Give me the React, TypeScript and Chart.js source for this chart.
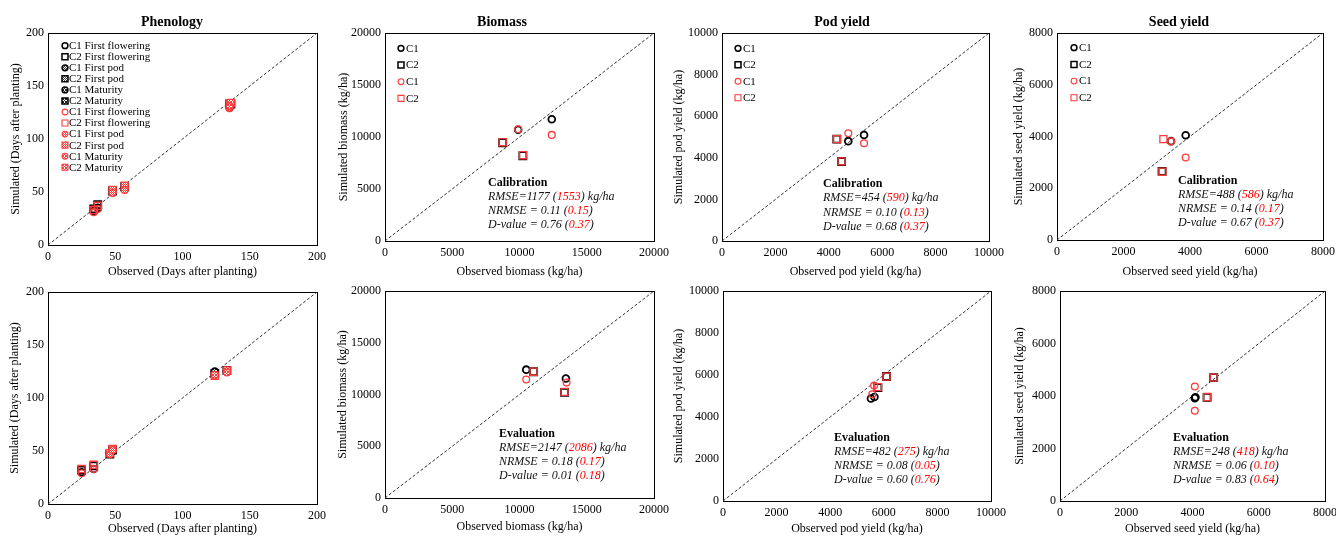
import React, { useEffect, useRef } from 'react';
import { Chart, registerables } from 'chart.js';

Chart.register(...registerables);

const FONT = '"Liberation Serif", "Times New Roman", serif';
const BLACK = '#000000';
const RED = '#ff3b3b';
const RED_TEXT = '#ff0000';

// ---------------- data ----------------
const phenNames = ['C1 First flowering', 'C2 First flowering', 'C1 First pod', 'C2 First pod', 'C1 Maturity', 'C2 Maturity'];
const yieldNames = ['C1', 'C2'];

const phenTicks = [0, 50, 100, 150, 200];
const biomassTicks = [0, 5000, 10000, 15000, 20000];
const podTicks = [0, 2000, 4000, 6000, 8000, 10000];
const seedTicks = [0, 2000, 4000, 6000, 8000];

// [observed, simulated] pairs per series
const phenCalBlack = [
  [[34, 32], [37, 35]],
  [[34, 34], [37, 38]],
  [[48, 50], [57, 53]],
  [[48, 51], [57, 55]],
  [[135, 131], [135, 130]],
  [[135, 133], [136, 133]],
];
const phenCalRed = [
  [[34, 31], [37, 34]],
  [[34, 33], [37, 37]],
  [[48, 49], [57, 52]],
  [[48, 52], [57, 56]],
  [[135, 129], [135, 131]],
  [[135, 133], [136, 134]],
];
const phenEvalBlack = [
  [[25, 30], [34, 33]],
  [[25, 32], [34, 36]],
  [[46, 48], [48, 50]],
  [[46, 47], [48, 51]],
  [[124, 125], [133, 125]],
  [[124, 123], [133, 126]],
];
const phenEvalRed = [
  [[25, 29], [34, 33]],
  [[25, 33], [34, 37]],
  [[46, 47], [48, 51]],
  [[46, 48], [48, 52]],
  [[124, 122], [133, 124]],
  [[124, 121], [133, 126]],
];

const biomassCalBlack = [
  [[9900, 10700], [12400, 11700]],
  [[8750, 9450], [10250, 8200]],
];
const biomassCalRed = [
  [[9900, 10750], [12400, 10200]],
  [[8750, 9500], [10250, 8250]],
];
const biomassEvalBlack = [
  [[10500, 12400], [13450, 11550]],
  [[11050, 12200], [13350, 10200]],
];
const biomassEvalRed = [
  [[10500, 11450], [13500, 11150]],
  [[11050, 12200], [13350, 10250]],
];

const podCalBlack = [
  [[4730, 4800], [5320, 5100]],
  [[4300, 4900], [4480, 3820]],
];
const podCalRed = [
  [[4730, 5180], [5320, 4700]],
  [[4300, 4900], [4480, 3830]],
];
const podEvalBlack = [
  [[5520, 4880], [5650, 4950]],
  [[5780, 5400], [6100, 5930]],
];
const podEvalRed = [
  [[5570, 5080], [5640, 5500]],
  [[5780, 5420], [6100, 5920]],
];

const seedCalBlack = [
  [[3430, 3820], [3870, 4050]],
  [[3160, 2650]],
];
const seedCalRed = [
  [[3430, 3810], [3870, 3190]],
  [[3200, 3900], [3170, 2640]],
];
const seedEvalBlack = [
  [[4070, 3920], [4090, 3950]],
  [[4440, 3950], [4640, 4700]],
];
const seedEvalRed = [
  [[4070, 4360], [4070, 3440]],
  [[4440, 3960], [4640, 4700]],
];

// RMSE, RMSE(red), NRMSE, NRMSE(red), D, D(red)
const biomassCalStats = ['1177', '1553', '0.11', '0.15', '0.76', '0.37'];
const podCalStats = ['454', '590', '0.10', '0.13', '0.68', '0.37'];
const seedCalStats = ['488', '586', '0.14', '0.17', '0.67', '0.37'];
const biomassEvalStats = ['2147', '2086', '0.18', '0.17', '0.01', '0.18'];
const podEvalStats = ['482', '275', '0.08', '0.05', '0.60', '0.76'];
const seedEvalStats = ['248', '418', '0.06', '0.10', '0.83', '0.64'];

// ---------------- layout ----------------
const TOP_CY = 0, TOP_CH = 282, BOT_CY = 282, BOT_CH = 260, CW = 345;

const panels: any[] = [
  {
    id: 'phenCal', cx: 0, cy: TOP_CY, cw: CW, ch: TOP_CH, plot: [48, 33, 317, 245], ticks: phenTicks,
    xTitle: 'Observed (Days after planting)', yTitle: 'Simulated (Days after planting)', yTitleX: 16, xTitleY: 272,
    title: 'Phenology', titleX: 172, kind: 'phen', names: phenNames, black: phenCalBlack, red: phenCalRed,
    legend: { x: 65, y: 45.7, step: 11.05, textX: 69 },
  },
  {
    id: 'bioCal', cx: 334, cy: TOP_CY, cw: CW, ch: TOP_CH, plot: [385, 33, 654, 241], ticks: biomassTicks,
    xTitle: 'Observed biomass (kg/ha)', yTitle: 'Simulated biomass (kg/ha)', yTitleX: 343.5, xTitleY: 272,
    title: 'Biomass', titleX: 502, kind: 'yield', names: yieldNames, black: biomassCalBlack, red: biomassCalRed,
    legend: { x: 401, y: 48.3, step: 16.7, textX: 406 },
    stats: { label: 'Calibration', values: biomassCalStats, x: 488, y: 183, step: 13.8 },
  },
  {
    id: 'podCal', cx: 668, cy: TOP_CY, cw: CW, ch: TOP_CH, plot: [722, 33, 989, 241], ticks: podTicks,
    xTitle: 'Observed pod yield (kg/ha)', yTitle: 'Simulated pod yield (kg/ha)', yTitleX: 679, xTitleY: 272,
    title: 'Pod yield', titleX: 842, kind: 'yield', names: yieldNames, black: podCalBlack, red: podCalRed,
    legend: { x: 738, y: 48.3, step: 16.5, textX: 743 },
    stats: { label: 'Calibration', values: podCalStats, x: 823, y: 184, step: 14.2 },
  },
  {
    id: 'seedCal', cx: 1002, cy: TOP_CY, cw: CW, ch: TOP_CH, plot: [1057, 33, 1323, 240], ticks: seedTicks,
    xTitle: 'Observed seed yield (kg/ha)', yTitle: 'Simulated seed yield (kg/ha)', yTitleX: 1018.5, xTitleY: 272,
    title: 'Seed yield', titleX: 1179, kind: 'yield', names: yieldNames, black: seedCalBlack, red: seedCalRed,
    legend: { x: 1074, y: 47.7, step: 16.7, textX: 1079 },
    stats: { label: 'Calibration', values: seedCalStats, x: 1178, y: 181, step: 14 },
  },
  {
    id: 'phenEval', cx: 0, cy: BOT_CY, cw: CW, ch: BOT_CH, plot: [48, 292, 317, 504], ticks: phenTicks,
    xTitle: 'Observed (Days after planting)', yTitle: 'Simulated (Days after planting)', yTitleX: 15, xTitleY: 529,
    kind: 'phen', names: phenNames, black: phenEvalBlack, red: phenEvalRed,
  },
  {
    id: 'bioEval', cx: 334, cy: BOT_CY, cw: CW, ch: BOT_CH, plot: [385, 291, 654, 498], ticks: biomassTicks,
    xTitle: 'Observed biomass (kg/ha)', yTitle: 'Simulated biomass (kg/ha)', yTitleX: 343, xTitleY: 527,
    kind: 'yield', names: yieldNames, black: biomassEvalBlack, red: biomassEvalRed,
    stats: { label: 'Evaluation', values: biomassEvalStats, x: 499, y: 434, step: 14 },
  },
  {
    id: 'podEval', cx: 668, cy: BOT_CY, cw: CW, ch: BOT_CH, plot: [723, 291, 991, 501], ticks: podTicks,
    xTitle: 'Observed pod yield (kg/ha)', yTitle: 'Simulated pod yield (kg/ha)', yTitleX: 679, xTitleY: 529,
    kind: 'yield', names: yieldNames, black: podEvalBlack, red: podEvalRed,
    stats: { label: 'Evaluation', values: podEvalStats, x: 834, y: 438, step: 14 },
  },
  {
    id: 'seedEval', cx: 1002, cy: BOT_CY, cw: CW, ch: BOT_CH, plot: [1060, 291, 1325, 501], ticks: seedTicks,
    xTitle: 'Observed seed yield (kg/ha)', yTitle: 'Simulated seed yield (kg/ha)', yTitleX: 1020, xTitleY: 529,
    kind: 'yield', names: yieldNames, black: seedEvalBlack, red: seedEvalRed,
    stats: { label: 'Evaluation', values: seedEvalStats, x: 1173, y: 438, step: 14 },
  },
];

function makePattern(kind: string, color: string): any {
  const c = document.createElement('canvas');
  const n = kind === 'dots' ? 2 : 3;
  c.width = n;
  c.height = n;
  const g = c.getContext('2d');
  if (!g) return color;
  g.fillStyle = '#ffffff';
  g.fillRect(0, 0, n, n);
  g.fillStyle = color;
  if (kind === 'dots') {
    g.fillRect(0, 0, 1, 1);
    g.fillRect(1, 1, 1, 1);
  } else {
    g.fillRect(0, 0, 1, 1);
    g.fillRect(1, 1, 1, 1);
    g.fillRect(2, 2, 1, 1);
    g.fillRect(2, 0, 1, 1);
    g.fillRect(0, 2, 1, 1);
  }
  return g.createPattern(c, 'repeat') || color;
}

function drawMarker(ctx: any, shape: string, x: number, y: number, r: number, fill: any, stroke: string, lw: number) {
  ctx.beginPath();
  if (shape === 'circle') ctx.arc(x, y, r, 0, Math.PI * 2);
  else ctx.rect(x - r, y - r, 2 * r, 2 * r);
  ctx.fillStyle = fill;
  ctx.fill();
  ctx.lineWidth = lw;
  ctx.strokeStyle = stroke;
  ctx.stroke();
}

function buildConfig(p: any) {
  const pats: any = {
    blackdots: makePattern('dots', '#3a3a3a'),
    blackhatch: makePattern('hatch', '#222222'),
    reddots: makePattern('dots', RED),
    redhatch: makePattern('hatch', RED),
  };
  const styles = (color: string) =>
    p.names.map((name: string, i: number) => {
      const shape = i % 2 === 0 ? 'circle' : 'rect';
      const stage = p.kind === 'phen' ? Math.floor(i / 2) : 0;
      const fill = stage === 0 ? 'rgba(255,255,255,0)' : stage === 1 ? pats[color + 'dots'] : pats[color + 'hatch'];
      return {
        name, shape, fill,
        stroke: color === 'black' ? BLACK : RED,
        lw: color === 'black' ? 1.8 : 1.3,
      };
    });
  const blackStyles = styles('black');
  const redStyles = styles('red');
  const allStyles = [...blackStyles, ...redStyles];

  const min = p.ticks[0];
  const max = p.ticks[p.ticks.length - 1];
  const step = p.ticks[1] - p.ticks[0];

  const mk = (st: any, pts: number[][], order: number) => ({
    label: st.name,
    data: pts.map(([x, y]) => ({ x, y })),
    pointStyle: st.shape,
    pointRadius: st.shape === 'circle' ? 3.4 : 5,
    pointBackgroundColor: st.fill,
    pointBorderColor: st.stroke,
    pointBorderWidth: st.lw,
    backgroundColor: st.fill,
    borderColor: st.stroke,
    showLine: false,
    order,
  });
  const datasets: any[] = [];
  blackStyles.forEach((st: any, i: number) => datasets.push(mk(st, p.black[i], 2)));
  redStyles.forEach((st: any, i: number) => datasets.push(mk(st, p.red[i], 1)));
  datasets.push({
    label: '1:1',
    data: [{ x: min, y: min }, { x: max, y: max }],
    showLine: true,
    borderColor: '#333333',
    borderWidth: 1,
    borderDash: [3, 2],
    pointRadius: 0,
    fill: false,
    order: 3,
  });

  const [L, T, R, B] = p.plot;
  const yW = L - p.cx;
  const padTop = T - p.cy;
  const padRight = p.cx + p.cw - R;
  const xH = p.cy + p.ch - B;
  const lh = 12 * 1.2;
  const ox = p.cx, oy = p.cy;

  const overlay = {
    id: 'overlay' + p.id,
    beforeDatasetsDraw(chart: any) {
      const ctx = chart.ctx;
      const ca = chart.chartArea;
      ctx.save();
      ctx.strokeStyle = '#000';
      ctx.lineWidth = 1;
      ctx.strokeRect(Math.round(ca.left) + 0.5, Math.round(ca.top) + 0.5, Math.round(ca.right - ca.left), Math.round(ca.bottom - ca.top));
      ctx.restore();
    },
    afterDraw(chart: any) {
      const ctx = chart.ctx;
      ctx.save();
      ctx.textBaseline = 'middle';
      if (p.title) {
        ctx.textAlign = 'center';
        ctx.fillStyle = '#000';
        ctx.font = `bold 14px ${FONT}`;
        ctx.fillText(p.title, p.titleX - ox, 22 - oy);
      }
      if (p.legend) {
        const lg = p.legend;
        ctx.textAlign = 'left';
        ctx.font = `11px ${FONT}`;
        allStyles.forEach((st: any, i: number) => {
          const y = lg.y + i * lg.step - oy;
          drawMarker(ctx, st.shape, lg.x - ox, y, st.shape === 'circle' ? 2.9 : 3, st.fill, st.stroke, st.lw * 0.85);
          ctx.fillStyle = '#000';
          ctx.fillText(st.name, lg.textX - ox, y + 0.5);
        });
      }
      if (p.stats) {
        const s = p.stats;
        const v = s.values;
        ctx.textAlign = 'left';
        ctx.fillStyle = '#000';
        ctx.font = `bold 12px ${FONT}`;
        ctx.fillText(s.label, s.x - ox, s.y - oy);
        const lines = [
          ['RMSE=' + v[0] + ' (', v[1], ') kg/ha'],
          ['NRMSE = ' + v[2] + ' (', v[3], ')'],
          ['D-value = ' + v[4] + ' (', v[5], ')'],
        ];
        ctx.font = `italic 12px ${FONT}`;
        lines.forEach((ln, i) => {
          let x = s.x - ox;
          const y = s.y - oy + (i + 1) * s.step;
          const segs = [[ln[0], '#111'], [ln[1], RED_TEXT], [ln[2], '#111']];
          segs.forEach(([t, c]) => {
            ctx.fillStyle = c;
            ctx.fillText(t, x, y);
            x += ctx.measureText(t).width;
          });
        });
      }
      ctx.restore();
    },
  };

  const tickFont = { family: FONT, size: 12 };
  const titleFont = { family: FONT, size: 12 };

  return {
    type: 'scatter',
    data: { datasets },
    options: {
      animation: false,
      responsive: false,
      maintainAspectRatio: false,
      events: [],
      layout: { padding: { left: 0, top: padTop, right: padRight, bottom: 0 } },
      plugins: { legend: { display: false }, tooltip: { enabled: false }, title: { display: false } },
      scales: {
        x: {
          type: 'linear',
          position: 'bottom',
          min, max,
          grid: { display: false, drawTicks: false },
          border: { display: false },
          ticks: { stepSize: step, padding: 5, font: tickFont, color: '#000', autoSkip: false, maxRotation: 0, callback: (val: any) => String(val) },
          title: { display: true, text: p.xTitle, font: titleFont, color: '#000', padding: { top: 0, bottom: p.cy + p.ch - p.xTitleY - lh / 2 } },
          afterFit: (s: any) => { s.height = xH; s.paddingLeft = 0; s.paddingRight = 0; },
        },
        y: {
          type: 'linear',
          position: 'left',
          min, max,
          grid: { display: false, drawTicks: false },
          border: { display: false },
          ticks: { stepSize: step, padding: 4, font: tickFont, color: '#000', autoSkip: false, callback: (val: any) => String(val) },
          title: { display: true, text: p.yTitle, font: titleFont, color: '#000', padding: { top: p.yTitleX - p.cx - lh / 2, bottom: 0 } },
          afterFit: (s: any) => { s.width = yW; s.paddingTop = 0; s.paddingBottom = 0; },
        },
      },
    },
    plugins: [overlay],
  };
}

export default function App() {
  const refs = useRef<(HTMLCanvasElement | null)[]>([]);
  useEffect(() => {
    const charts = panels.map((p, i) => {
      const c = refs.current[i];
      if (!c) return null;
      return new Chart(c, buildConfig(p) as any);
    });
    return () => {
      charts.forEach((ch) => ch && ch.destroy());
    };
  }, []);
  return (
    <div style={{ position: 'fixed', left: 0, top: 0, width: 1336, height: 536, overflow: 'hidden', background: '#fff' }}>
      {panels.map((p, i) => (
        <canvas
          key={p.id}
          ref={(el) => { refs.current[i] = el; }}
          width={p.cw}
          height={p.ch}
          style={{ position: 'absolute', left: p.cx, top: p.cy, width: p.cw, height: p.ch }}
        />
      ))}
    </div>
  );
}
